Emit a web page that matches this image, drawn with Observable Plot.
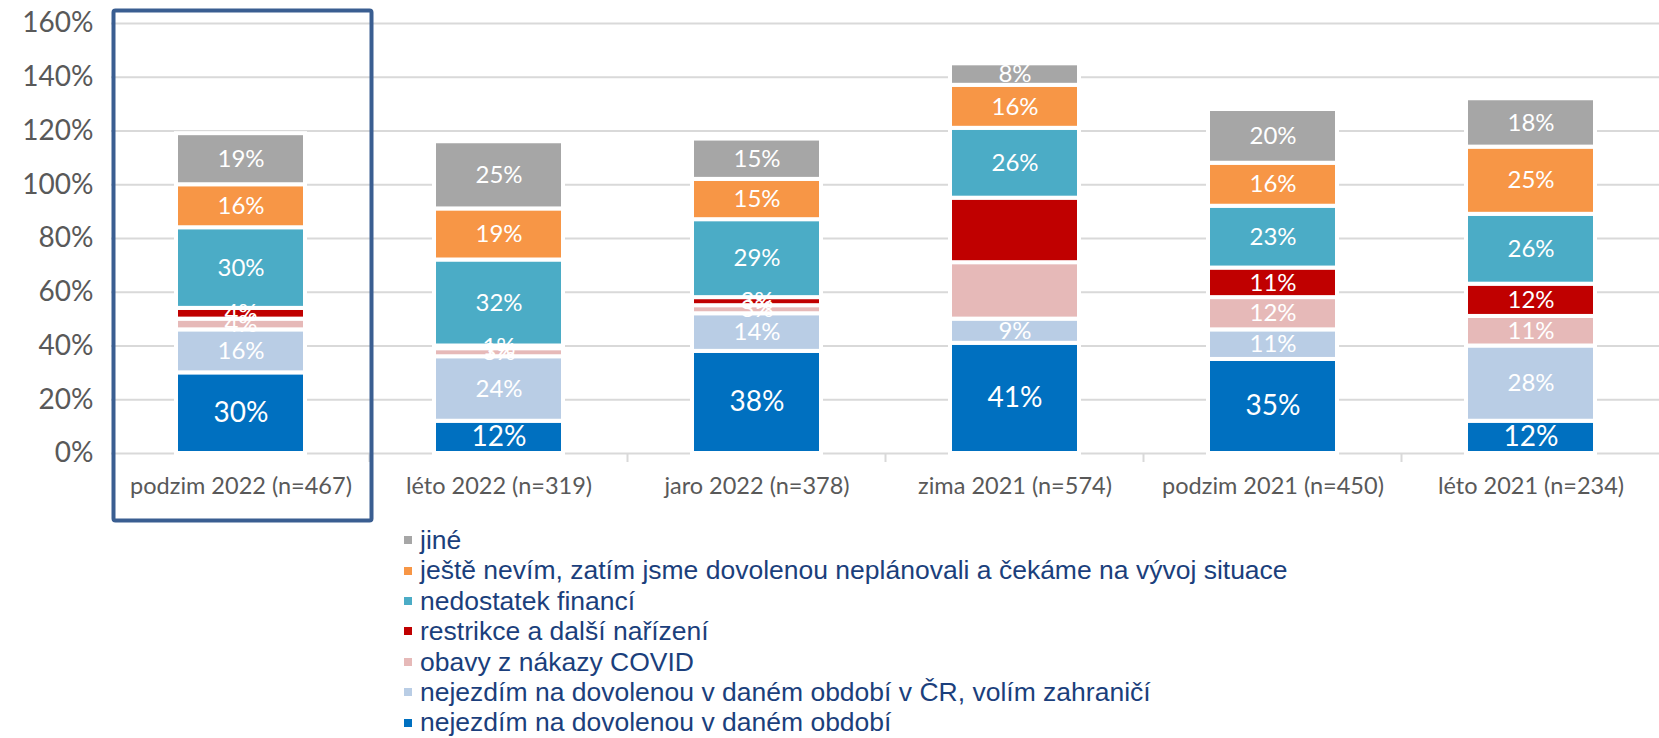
<!DOCTYPE html>
<html>
<head>
<meta charset="utf-8">
<script src="https://cdn.jsdelivr.net/npm/d3@7"></script>
<script src="https://cdn.jsdelivr.net/npm/@observablehq/plot@0.6"></script>
<style>
  html, body { margin: 0; padding: 0; background: #fff; }
  #chart { position: relative; width: 1659px; }
  #legend { position: relative; margin: 0; padding: 0 0 0 404px; font-family: "Liberation Sans", Arial, sans-serif; font-size: 26.5px; color: #1B3F7C; }
  .li { height: 30.4px; line-height: 30.4px; white-space: nowrap; display: flex; align-items: center; }
  .sw { width: 8px; height: 8px; display: inline-block; margin-right: 8px; flex: none; }
</style>
</head>
<body>
<div id="chart"></div>
<div id="legend"></div>
<script>
const categories = ["podzim 2022 (n=467)", "léto 2022 (n=319)", "jaro 2022 (n=378)", "zima 2021 (n=574)", "podzim 2021 (n=450)", "léto 2021 (n=234)"];
// stacking order: bottom to top
const seriesNames = [
  "nejezdím na dovolenou v daném období",
  "nejezdím na dovolenou v daném období v ČR, volím zahraničí",
  "obavy z nákazy COVID",
  "restrikce a další nařízení",
  "nedostatek financí",
  "ještě nevím, zatím jsme dovolenou neplánovali a čekáme na vývoj situace",
  "jiné"
];
const seriesColors = ["#0070C0", "#B9CDE5", "#E6B9B8", "#C00000", "#4BACC6", "#F79646", "#A6A6A6"];

const nejezdim   = [30, 12, 38, 41, 35, 12];
const nejezdimCR = [16, 24, 14,  9, 11, 28];
const covid      = [ 4,  3,  3, 21, 12, 11];
const restrikce  = [ 4,  1,  3, 24, 11, 12];
const financi    = [30, 32, 29, 26, 23, 26];
const nevim      = [16, 19, 15, 16, 16, 25];
const jine       = [19, 25, 15,  8, 20, 18];
// labels not printed in the original (zima 2021: COVID, restrikce)
const hiddenLabels = [["zima 2021 (n=574)", "obavy z nákazy COVID"], ["zima 2021 (n=574)", "restrikce a další nařízení"]];

const yTicks = [0, 20, 40, 60, 80, 100, 120, 140, 160];
const highlighted = categories[0];

const seriesValues = [nejezdim, nejezdimCR, covid, restrikce, financi, nevim, jine];
const data = [];
seriesNames.forEach((s, si) => {
  categories.forEach((c, ci) => {
    const hidden = hiddenLabels.some(([hc, hs]) => hc === c && hs === s);
    data.push({cat: c, series: s, value: seriesValues[si][ci], label: hidden ? null : seriesValues[si][ci] + "%", big: si === 0});
  });
});

const FONT = "Lato, 'Open Sans', sans-serif";
const plot = Plot.plot({
  width: 1659,
  height: 525,
  marginTop: 23,
  marginBottom: 72,
  marginLeft: 111,
  marginRight: 0,
  style: {fontFamily: FONT, background: "#fff", overflow: "visible"},
  x: {domain: categories, paddingInner: 0.5, paddingOuter: 0.25, label: null},
  y: {domain: [0, 160], label: null},
  color: {domain: seriesNames, range: seriesColors},
  marks: [
    Plot.gridY(yTicks, {stroke: "#D9D9D9", strokeOpacity: 1, strokeWidth: 2}),
    Plot.barY(data, Plot.stackY({x: "cat", y: "value", fill: "series", order: seriesNames, stroke: "white", strokeWidth: 4})),
    Plot.text(data, Plot.stackY({x: "cat", y: "value", z: "series", order: seriesNames, text: "label", fill: "white",
      fontSize: d => d.big ? 28 : 24, fontFamily: FONT})),
    Plot.axisY(yTicks, {tickSize: 0, tickPadding: 18, fontSize: 28, fill: "#595959", tickFormat: d => d + "%"}),
    Plot.axisX({tickSize: 0, tickPadding: 24, fontSize: 23.5, fill: "#595959"})
  ]
});
document.getElementById("chart").appendChild(plot);

// band-boundary tick marks and highlight box, positioned from the x scale
const xs = plot.scale("x");
const ys = plot.scale("y");
const svg = d3.select(plot);
const step = xs.step, bw = xs.bandwidth;
const half = (step - bw) / 2;
const y0 = ys.apply(0);
categories.slice(1).forEach(c => {
  const bx = xs.apply(c) - half;
  svg.append("line").attr("x1", bx).attr("x2", bx).attr("y1", y0 + 1).attr("y2", y0 + 9)
    .attr("stroke", "#D9D9D9").attr("stroke-width", 2);
});
const hx0 = xs.apply(highlighted) - half;
svg.append("rect")
  .attr("x", hx0 + 2).attr("y", ys.apply(160) - 12.5)
  .attr("width", step).attr("height", 510)
  .attr("fill", "none").attr("stroke", "#3A5E91").attr("stroke-width", 4).attr("rx", 2);

// legend (top to bottom: reverse of stacking)
const legend = document.getElementById("legend");
seriesNames.slice().reverse().forEach((s) => {
  const i = seriesNames.indexOf(s);
  const row = document.createElement("div");
  row.className = "li";
  const sw = document.createElement("span");
  sw.className = "sw";
  sw.style.background = seriesColors[i];
  row.appendChild(sw);
  row.appendChild(document.createTextNode(s));
  legend.appendChild(row);
});
</script>
</body>
</html>
